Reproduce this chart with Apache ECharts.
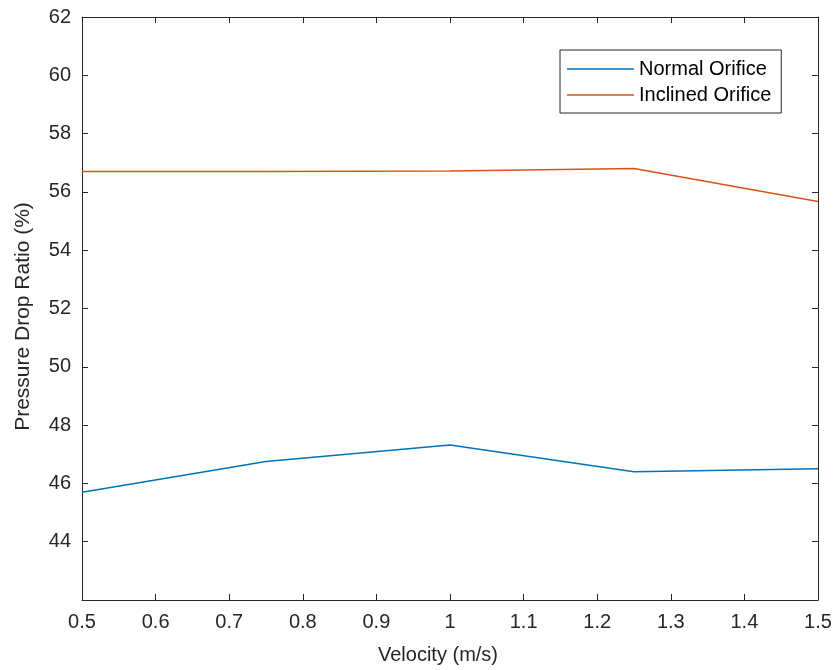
<!DOCTYPE html>
<html>
<head>
<meta charset="utf-8">
<title>Pressure Drop Ratio</title>
<script src="https://cdn.jsdelivr.net/npm/echarts@6/dist/echarts.min.js"></script>
<style>
  html, body { margin: 0; padding: 0; background: #fff; }
  #chart { width: 837px; height: 670px; }
</style>
</head>
<body>
<div id="chart"></div>
<script>
// data
const velocity = [0.5, 0.75, 1.0, 1.25, 1.5]
const normalOrifice = [45.7, 46.75, 47.32, 46.4, 46.5]
const inclinedOrifice = [56.7, 56.7, 56.72, 56.8, 55.67]
const seriesNames = ['Normal Orifice', 'Inclined Orifice']

const font = 'Liberation Sans, Arial, sans-serif'
const ink = '#262626'

function pairs (xs, ys) {
  return xs.map((x, i) => [x, ys[i]])
}

const myChart = echarts.init(document.getElementById('chart'))

// inward ticks, box on all four sides like the MATLAB axes
const boxAxis = {
  axisLine: { show: true, onZero: false, lineStyle: { color: ink, width: 1 } },
  axisTick: { show: true, inside: true, length: 6, lineStyle: { color: ink } },
  splitLine: { show: false }
}

myChart.setOption({
  animation: false,
  backgroundColor: '#fff',
  color: ['#0072BD', '#D95319'],
  grid: { left: 82, right: 19, top: 17, bottom: 70 },
  legend: {
    orient: 'vertical',
    left: 560,
    top: 50,
    data: seriesNames,
    icon: 'rect',
    itemWidth: 67,
    itemHeight: 1.5,
    itemGap: 2,
    padding: [7, 10, 6, 7],
    borderColor: ink,
    borderWidth: 1,
    backgroundColor: '#fff',
    textStyle: { fontFamily: font, fontSize: 20, lineHeight: 24, color: '#000' }
  },
  xAxis: [
    Object.assign({}, boxAxis, {
      type: 'value',
      min: 0.5,
      max: 1.5,
      interval: 0.1,
      name: 'Velocity (m/s)',
      nameLocation: 'middle',
      nameGap: 45,
      nameTextStyle: { fontFamily: font, fontSize: 20, color: ink, padding: [0, 24, 0, 0] },
      axisLabel: {
        margin: 12,
        fontFamily: font,
        fontSize: 20,
        color: ink,
        formatter: v => String(+v.toFixed(1))
      }
    }),
    Object.assign({}, boxAxis, {
      type: 'value',
      position: 'top',
      min: 0.5,
      max: 1.5,
      interval: 0.1,
      axisLabel: { show: false }
    })
  ],
  yAxis: [
    Object.assign({}, boxAxis, {
      type: 'value',
      min: 42,
      max: 62,
      interval: 2,
      name: 'Pressure Drop Ratio (%)',
      nameLocation: 'middle',
      nameGap: 48,
      nameTextStyle: { fontFamily: font, fontSize: 21, color: ink, padding: [0, 16, 0, 0] },
      axisLabel: {
        margin: 11,
        fontFamily: font,
        fontSize: 20,
        color: ink,
        showMinLabel: false
      }
    }),
    Object.assign({}, boxAxis, {
      type: 'value',
      position: 'right',
      min: 42,
      max: 62,
      interval: 2,
      axisLabel: { show: false }
    })
  ],
  series: [
    {
      name: seriesNames[0],
      type: 'line',
      symbol: 'none',
      lineStyle: { width: 1.5 },
      data: pairs(velocity, normalOrifice)
    },
    {
      name: seriesNames[1],
      type: 'line',
      symbol: 'none',
      lineStyle: { width: 1.5 },
      data: pairs(velocity, inclinedOrifice)
    }
  ]
})
</script>
</body>
</html>
